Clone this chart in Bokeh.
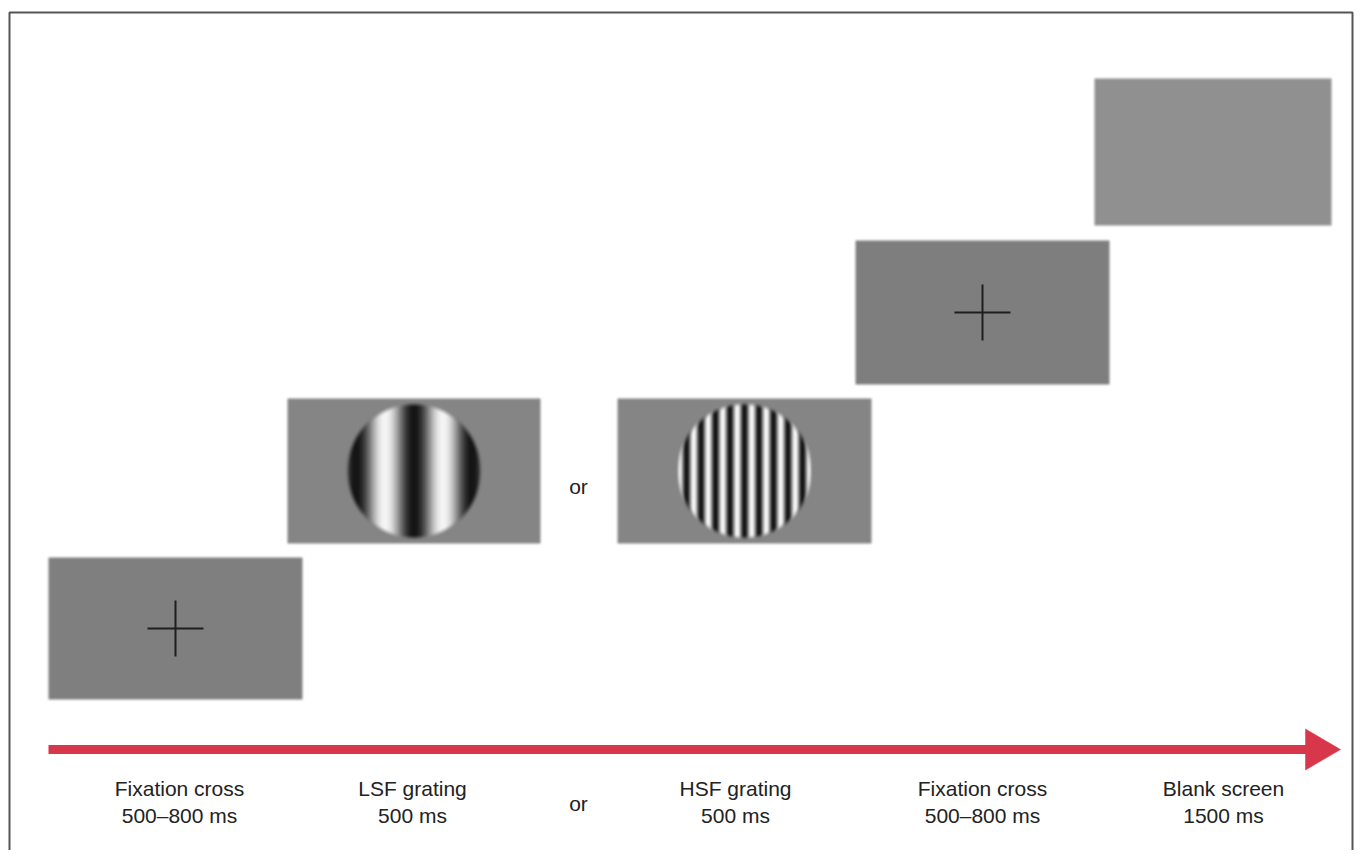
import numpy as np
from bokeh.plotting import figure
from bokeh.models import Range1d
from bokeh.embed import file_html
from bokeh.resources import INLINE
from bokeh.core.properties import value

# ---- content of the diagram ----
step_labels = ["Fixation cross", "LSF grating", "HSF grating", "Fixation cross", "Blank screen"]
step_durations = ["500–800 ms", "500 ms", "500 ms", "500–800 ms", "1500 ms"]
step_kind = ["cross", "lsf", "hsf", "cross", "blank"]
or_text = "or"

# ---- layout (page pixels) ----
label_x = [179, 412, 735, 982, 1223]
panel_left = [48, 287, 617, 855, 1094]
panel_top = [557, 398, 398, 240, 78]
panel_w = [254, 253, 254, 254, 237]
panel_h = [142, 145, 145, 144, 147]
panel_gray = [127, 133, 133, 126, 144]
grating_period = {"lsf": 58.0, "hsf": 14.5}
grating_radius = 70.0
cross_half = 28
or_x = 578
or_y = [486, 803]
label_base = [788, 815]
arrow = dict(x0=48, x1=1306, y=749, width=9, head_len=35, head_half=20.5)

RED = "#d8364a"
TXT = "#222222"
FONT = value("Liberation Sans")

W_PX, H_PX = 1354, 850
p = figure(width=W_PX, height=H_PX, output_backend="svg", toolbar_location=None,
           x_range=Range1d(0, W_PX), y_range=Range1d(-H_PX, 0),
           min_border=0, outline_line_color=None, background_fill_color="white",
           border_fill_color="white")
p.xaxis.visible = False
p.yaxis.visible = False
p.grid.visible = False


def panel_rgba(w, h, gray, kind, pad=4, blur=3.5):
    Wt, Ht = w + 2 * pad, h + 2 * pad
    xs = np.arange(Wt) + 0.5 - pad
    ys = np.arange(Ht) + 0.5 - pad
    X, Y = np.meshgrid(xs, ys)
    ax = np.clip(X / blur + 0.5, 0, 1) * np.clip((w - X) / blur + 0.5, 0, 1)
    ay = np.clip(Y / blur + 0.5, 0, 1) * np.clip((h - Y) / blur + 0.5, 0, 1)
    alpha = ax * ay
    L = np.full(X.shape, float(gray))
    if kind in grating_period:
        per = grating_period[kind]
        cx, cy = w / 2.0, h / 2.0
        r = np.hypot(X - cx, Y - cy)
        edge = 7.0
        env = np.clip((grating_radius - r) / edge, 0, 1)
        env = 0.5 - 0.5 * np.cos(np.pi * env)
        L = L - 112.0 * env * np.cos(2 * np.pi * (X - cx) / per)
    L = np.clip(L, 0, 255).astype(np.uint32)
    A = np.clip(alpha * 255, 0, 255).astype(np.uint32)
    img = (A << 24) | (L << 16) | (L << 8) | L
    return img[::-1].copy(), Wt, Ht


for i, kind in enumerate(step_kind):
    pad = 4
    img, Wt, Ht = panel_rgba(panel_w[i], panel_h[i], panel_gray[i], kind, pad=pad)
    p.image_rgba(image=[img], x=panel_left[i] - pad, y=-(panel_top[i] + panel_h[i] + pad),
                 dw=Wt, dh=Ht)
    if kind == "cross":
        cx = panel_left[i] + panel_w[i] / 2.0
        cy = panel_top[i] + panel_h[i] / 2.0
        p.segment(x0=[cx - cross_half, cx], y0=[-cy, -(cy - cross_half)],
                  x1=[cx + cross_half, cx], y1=[-cy, -(cy + cross_half)],
                  line_color="#1e1e1e", line_width=2)

# arrow
p.segment(x0=[arrow["x0"]], y0=[-arrow["y"]], x1=[arrow["x1"]], y1=[-arrow["y"]],
          line_color=RED, line_width=arrow["width"], line_cap="butt")
hx = arrow["x1"]
p.patch(x=[hx - 1, hx + arrow["head_len"] - 1, hx - 1],
        y=[-(arrow["y"] - arrow["head_half"]), -arrow["y"], -(arrow["y"] + arrow["head_half"])],
        fill_color=RED, line_color=RED, line_width=0.5)

# labels
p.text(x=label_x, y=[-label_base[0]] * len(label_x), text=step_labels,
       text_font=FONT, text_font_size="21px", text_color=TXT,
       text_align="center", text_baseline="alphabetic")
p.text(x=label_x, y=[-label_base[1]] * len(label_x), text=step_durations,
       text_font=FONT, text_font_size="21px", text_color=TXT,
       text_align="center", text_baseline="alphabetic")
p.text(x=[or_x, or_x], y=[-v for v in or_y], text=[or_text, or_text],
       text_font=FONT, text_font_size="21px", text_color=TXT,
       text_align="center", text_baseline="alphabetic")

# frame (top, left, right; bottom runs off the page)
p.multi_line(xs=[[9, 9, 1352, 1352]], ys=[[-850, -12, -12, -850]],
             line_color="#555555", line_width=2)

open("out.html", "w").write(file_html(p, INLINE))
